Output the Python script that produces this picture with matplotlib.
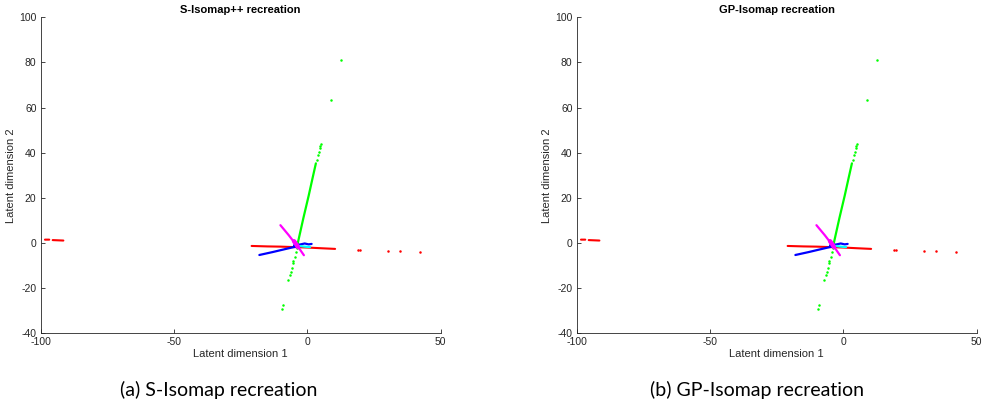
import matplotlib
matplotlib.use('Agg')
import matplotlib.pyplot as plt
import numpy as np

nan = np.nan

# 读图估计的坐标 (latent dim 1, latent dim 2)
# 连续的密集段用折线画, 稀疏的点单独画
red_line_x = [-98.4, -96.8, nan, -95.5, -91.5, nan, -20.9, -15.0, -10.0, -5.0, 0.0, 5.0, 10.4]
red_line_y = [1.5, 1.5, nan, 1.3, 1.1, nan, -1.3, -1.5, -1.6, -1.8, -2.0, -2.3, -2.6]
red_dots_x = [19.1, 19.9, 30.1, 34.7, 42.2]
red_dots_y = [-3.1, -3.1, -3.5, -3.7, -4.1]

green_line_x = [-3.6, -1.5, 0.5, 2.0, 3.2]
green_line_y = [-0.1, 11.0, 21.0, 29.0, 35.3]
green_dots_x = [3.6, 4.0, 4.3, 4.6, 4.8, 5.1, -4.0, -4.4, -4.8, -5.3, -5.5, -5.9, -6.3, -6.5, -7.1,
                -9.25, -9.6, 9.0, 12.7]
green_dots_y = [37.0, 39.0, 40.5, 42.0, 43.0, 43.7, -2.0, -4.0, -6.0, -8.0, -9.0, -11.0, -13.0, -14.0, -16.4,
                -27.5, -29.4, 63.2, 81.1]

blue_line_x = [-18.0, -13.0, -8.0, -4.0, nan, -5.0, -2.5, -1.0, 0.5, 1.6]
blue_line_y = [-5.3, -4.0, -2.6, -1.5, nan, -1.0, -0.6, -0.2, -0.6, -0.4]

cyan_line_x = [-3.0, -1.0, 1.0]
cyan_line_y = [-1.3, -1.6, -1.8]

magenta_line_x = [-10.1, -7.0, -5.5, -4.0, -3.0, -1.3]
magenta_line_y = [7.9, 3.5, 1.2, -1.0, -2.5, -5.4]
magenta_blob_x = [-5.0, -4.2, -3.5]
magenta_blob_y = [0.8, -0.5, -1.8]

titles = ['S-Isomap++ recreation', 'GP-Isomap recreation']
captions = ['(a) S-Isomap recreation', '(b) GP-Isomap recreation']
xticks = [-100, -50, 0, 50]
yticks = [-40, -20, 0, 20, 40, 60, 80, 100]

plt.rcParams['font.family'] = ['Liberation Sans', 'DejaVu Sans']
plt.rcParams['axes.unicode_minus'] = False

fig = plt.figure(figsize=(9.83, 4.19), dpi=100)
axes_rects = [[0.0414, 0.2045, 0.4069, 0.7542], [0.5867, 0.2045, 0.4069, 0.7542]]
caption_x = [0.222, 0.770]

for k in range(2):
    ax = fig.add_axes(axes_rects[k])
    ax.plot(red_line_x, red_line_y, color=(1, 0, 0), lw=1.5, solid_capstyle='round')
    ax.plot(red_dots_x, red_dots_y, 'o', color=(1, 0, 0), ms=1.8, mew=0)
    ax.plot(green_line_x, green_line_y, color=(0, 1, 0), lw=1.6, solid_capstyle='round')
    ax.plot(green_dots_x, green_dots_y, 'o', color=(0, 1, 0), ms=1.8, mew=0)
    ax.plot(blue_line_x, blue_line_y, color=(0, 0, 1), lw=1.6, solid_capstyle='round')
    ax.plot(cyan_line_x, cyan_line_y, color=(0, 1, 1), lw=1.6, solid_capstyle='round')
    ax.plot(magenta_line_x, magenta_line_y, color=(1, 0, 1), lw=1.6, solid_capstyle='round')
    ax.plot(magenta_blob_x, magenta_blob_y, color=(1, 0, 1), lw=3.2, solid_capstyle='round')

    ax.set_xlim(-100, 50)
    ax.set_ylim(-40, 100)
    ax.set_xticks(xticks)
    ax.set_yticks(yticks)
    for s in ['top', 'right']:
        ax.spines[s].set_visible(False)
    for s in ['left', 'bottom']:
        ax.spines[s].set_color('#262626')
        ax.spines[s].set_linewidth(0.6)
    ax.tick_params(direction='in', length=3, width=0.6, colors='#262626', labelsize=7.5, pad=3)
    ax.set_xlabel('Latent dimension 1', fontsize=8, color='#262626', labelpad=1)
    ax.set_ylabel('Latent dimension 2', fontsize=8, color='#262626', labelpad=2)
    ax.set_title(titles[k], fontsize=8, fontweight='bold', pad=3)

    fig.text(caption_x[k], 0.07, captions[k], ha='center', va='center', fontsize=14, family=['Lato', 'DejaVu Sans'])

fig.savefig('out.png', dpi=100)
